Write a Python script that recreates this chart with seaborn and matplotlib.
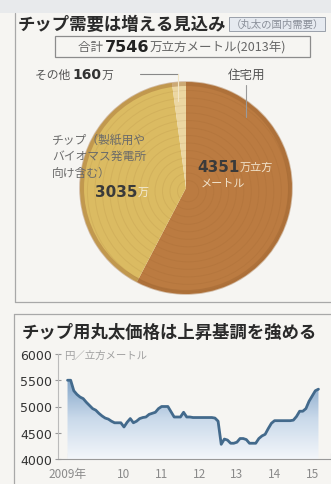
import matplotlib
matplotlib.use("Agg")
import matplotlib.pyplot as plt
import matplotlib.patches as mpatches
from matplotlib.colors import LinearSegmentedColormap
import numpy as np
import pandas as pd
import seaborn as sns

# ---- data -------------------------------------------------------------
demand_labels = ["住宅用", "チップ", "その他"]
demand_values = [4351, 3035, 160]          # 万立方メートル (2013年)
demand_total = 7546

price_start_year = 2009
# monthly chip-log price, 円/立方メートル, from Jan 2009
price_values = [5500, 5500, 5300, 5230, 5180, 5150, 5080, 5020, 4960, 4930, 4870, 4820,
                4780, 4760, 4720, 4690, 4690, 4690, 4610, 4700, 4770, 4690, 4720, 4770,
                4790, 4800, 4850, 4870, 4890, 4960, 5000, 5000, 5000, 4900, 4800, 4800,
                4800, 4890, 4800, 4800, 4790, 4790, 4790, 4790, 4790, 4790, 4790, 4780,
                4720, 4280, 4380, 4360, 4300, 4300, 4320, 4390, 4390, 4370, 4300, 4300,
                4300, 4390, 4440, 4470, 4580, 4680, 4730, 4730, 4730, 4730, 4730, 4730,
                4740, 4810, 4910, 4910, 4960, 5100, 5200, 5300, 5330]
year_labels = ["2009年", "10", "11", "12", "13", "14", "15"]
y_ticks = [4000, 4500, 5000, 5500, 6000]

# ---- figure setup -------------------------------------------------------
sns.set_theme(style="white")
plt.rcParams["font.family"] = ["Noto Sans CJK JP", "DejaVu Sans"]

W, H = 331, 485
BG = "#f6f5f2"
fig = plt.figure(figsize=(W / 100, H / 100), dpi=100, facecolor=BG)
renderer = fig.canvas.get_renderer()


def rect(x, y, w, h):
    return [x / W, 1 - (y + h) / H, w / W, h / H]


def fxy(x, y):
    return x / W, 1 - y / H


def text_runs(x, y, parts, ha="left"):
    """Draw consecutive text pieces with different styles on one baseline."""
    objs = []
    for s, kw in parts:
        objs.append(fig.text(0, 0, s, va="center", ha="left", **kw))
    widths = [o.get_window_extent(renderer).width for o in objs]
    total = sum(widths)
    start = x - total / 2 if ha == "center" else x
    cur = start
    for o, w in zip(objs, widths):
        o.set_position(fxy(cur, y))
        cur += w
    return start, cur


def hline(x0, x1, y, **kw):
    fig.add_artist(plt.Line2D([x0 / W, x1 / W], [1 - y / H, 1 - y / H], **kw))


def vline(x, y0, y1, **kw):
    fig.add_artist(plt.Line2D([x / W, x / W], [1 - y0 / H, 1 - y1 / H], **kw))


# ---- panel frames -------------------------------------------------------
fig.add_artist(mpatches.Rectangle((0, 1 - 14 / H), 1, 14 / H, transform=fig.transFigure,
                                  facecolor="#dfe3e8", edgecolor="none", alpha=0.6))
frame = dict(color="#a8a8a8", lw=0.9)
vline(15, 14, 303, **frame)
hline(15, 331, 303, **frame)
vline(14, 315, 485, **frame)
hline(14, 331, 315, **frame)

# ---- top panel: domestic log demand -------------------------------------
_, end = text_runs(18, 25, [("チップ需要は増える見込み",
                             dict(fontsize=12.5, fontweight="bold", color="#2a2a2a"))])
fig.text(*fxy(end + 4, 25), "（丸太の国内需要）", fontsize=7.5, color="#8a8f99",
         va="center", ha="left",
         bbox=dict(boxstyle="square,pad=0.15", fc="#e6eaf0", ec="#9aa0aa", lw=0.7))

fig.add_artist(mpatches.Rectangle(fxy(55, 58), 255 / W, 21 / H, transform=fig.transFigure,
                                  facecolor="none", edgecolor="#8c8c8c", lw=0.9))
text_runs(182, 48, [("合計 ", dict(fontsize=9, color="#666666")),
                    ("7546", dict(fontsize=11.5, fontweight="bold", color="#222222",
                                  family=["DejaVu Sans"])),
                    ("万立方メートル(2013年)", dict(fontsize=9, color="#666666"))],
          ha="center")

pie_colors = ["#bb7b41", "#dbbb62", "#ecd7a2"]
pie_cx, pie_cy, pie_r = 186, 189, 106
ax_pie = fig.add_axes(rect(pie_cx - 110, pie_cy - 110, 220, 220))
wedges, _ = ax_pie.pie(demand_values, colors=pie_colors, startangle=90,
                       counterclock=False, radius=1.0,
                       wedgeprops=dict(edgecolor="none"))
lim = 110 / pie_r
ax_pie.set_xlim(-lim, lim)
ax_pie.set_ylim(-lim, lim)
ax_pie.set_aspect("equal")
ax_pie.axis("off")

# growth rings of the log cross-section
clip_circle = mpatches.Circle((0, 0), 1.0, transform=ax_pie.transData)
for r in np.linspace(0.1, 0.95, 13):
    ring = mpatches.Circle((0.02, -0.03), r, fill=False, lw=0.7,
                           ec="#7a4a1c", alpha=0.09)
    ax_pie.add_patch(ring)
    ring.set_clip_path(clip_circle)
ax_pie.add_patch(mpatches.Circle((0, 0), 0.985, fill=False, lw=3.5, ec="#9c6431", alpha=0.4))

# labels around the pie
text_runs(35, 75, [("その他 ", dict(fontsize=8.5, color="#555555")),
                   ("160", dict(fontsize=10, fontweight="bold", color="#333333",
                                family=["DejaVu Sans"])),
                   ("万", dict(fontsize=8.5, color="#555555"))])
hline(140, 178, 75, color="#888888", lw=0.8)
vline(178, 75, 102, color="#f3e6c6", lw=0.8)

fig.text(*fxy(247, 75), "住宅用", fontsize=9, color="#555555", ha="center", va="center")
vline(246, 86, 118, color="#9a9a9a", lw=0.8)

for i, line in enumerate(["チップ（製紙用や", "バイオマス発電所", "向け含む）"]):
    fig.text(*fxy(52, 140 + i * 16.5), line, fontsize=8.5, color="#6a6a6a",
             ha="left", va="center")
text_runs(95, 193, [("3035", dict(fontsize=11, fontweight="bold", color="#3a3a3a",
                                  family=["DejaVu Sans"])),
                    ("万", dict(fontsize=8, color="#f4ecd8"))])
text_runs(197, 168, [("4351", dict(fontsize=11, fontweight="bold", color="#3a3a3a",
                                   family=["DejaVu Sans"])),
                     ("万立方", dict(fontsize=8, color="#f1e3cc"))])
fig.text(*fxy(201, 184), "メートル", fontsize=8, color="#f1e3cc", ha="left", va="center")

# ---- bottom panel: chip log price ---------------------------------------
fig.text(*fxy(22, 333), "チップ用丸太価格は上昇基調を強める", fontsize=12.5,
         fontweight="bold", color="#2a2a2a", ha="left", va="center")

months = np.arange(len(price_values))
price_df = pd.DataFrame({"year": price_start_year + months / 12.0,
                         "price": price_values})

x_left = 2009 - 10 / 39.5
x_right = 2009 + (331 - 68) / 39.5
ax = fig.add_axes(rect(58, 355, W - 58, 105))
ax.set_facecolor("none")

# gradient under the curve
verts = [(price_df["year"].iloc[0], 4000)] + list(zip(price_df["year"], price_df["price"])) \
        + [(price_df["year"].iloc[-1], 4000)]
poly = mpatches.Polygon(verts, closed=True, facecolor="none", edgecolor="none")
ax.add_patch(poly)
cmap = LinearSegmentedColormap.from_list("fade", ["#f3f6fa", "#c9d9ea", "#7ea2c6"])
grad = np.linspace(0, 1, 256).reshape(-1, 1)
img = ax.imshow(grad, extent=[x_left, x_right, 4000, 5550], origin="lower",
                aspect="auto", cmap=cmap, zorder=1)
img.set_clip_path(poly)

sns.lineplot(data=price_df, x="year", y="price", ax=ax, color="#436a8c",
             linewidth=2.0, zorder=3)

ax.set_xlim(x_left, x_right)
ax.set_ylim(4000, 6000)
ax.set_xlabel("")
ax.set_ylabel("")
for side in ["top", "right"]:
    ax.spines[side].set_visible(False)
ax.spines["left"].set_color("#bbbbbb")
ax.spines["left"].set_linewidth(0.8)
ax.spines["bottom"].set_color("#999999")
ax.spines["bottom"].set_linewidth(0.8)

ax.set_yticks(y_ticks)
ax.set_yticklabels([str(v) for v in y_ticks], fontsize=9, color="#333333",
                   family=["DejaVu Sans"])
ax.tick_params(axis="y", direction="inout", length=5, width=0.8, color="#999999", pad=2,
               left=True)

year_edges = list(range(2009, 2009 + len(year_labels) + 1))
ax.set_xticks(year_edges)
ax.set_xticklabels([])
ax.set_xticks([y + 0.5 for y in range(2009, 2009 + len(year_labels))], minor=True)
ax.set_xticklabels(year_labels, minor=True, fontsize=8.5, color="#8a8a8a")
ax.tick_params(axis="x", which="major", direction="in", length=4, width=0.8,
               color="#aaaaaa", bottom=True)
ax.tick_params(axis="x", which="minor", length=0, pad=6, bottom=True)
ax.get_xticklabels(minor=True)[0].set_horizontalalignment("right")
ax.get_xticklabels(minor=True)[0].set_x(2009.5 + 0.1)

fig.text(*fxy(64, 356), "円／立方メートル", fontsize=7.5, color="#a0a0a0",
         ha="left", va="center")

fig.savefig("out.png", dpi=100, facecolor=BG)
